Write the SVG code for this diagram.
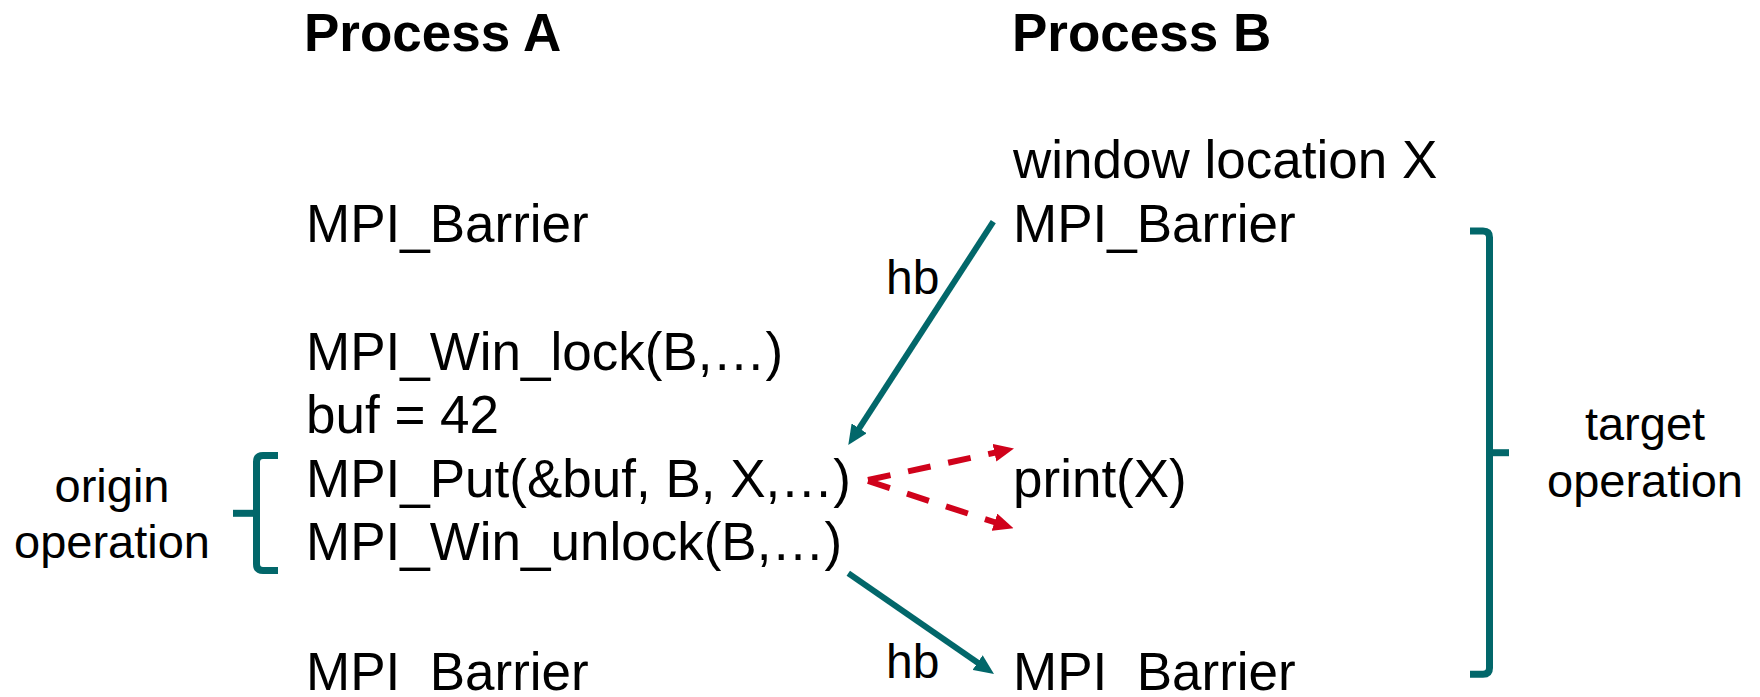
<svg xmlns="http://www.w3.org/2000/svg" width="1760" height="697" viewBox="0 0 1760 697">
  <style>
    .t { font-family: "Liberation Sans", Arial, sans-serif; font-size: 53px; fill: #000; }
    .h { font-family: "Liberation Sans", Arial, sans-serif; font-size: 53px; font-weight: bold; fill: #000; }
    .l { font-family: "Liberation Sans", Arial, sans-serif; font-size: 48px; fill: #000; }
    .lc { font-family: "Liberation Sans", Arial, sans-serif; font-size: 47px; fill: #000; text-anchor: middle; }
    .brace { fill: none; stroke: #02676A; stroke-width: 7; stroke-linecap: butt; stroke-linejoin: round; }
    .hb { fill: none; stroke: #02676A; stroke-width: 6; stroke-linecap: butt; marker-end: url(#tealHead); }
    .race { fill: none; stroke: #D0021B; stroke-width: 6; stroke-dasharray: 23 18; stroke-linecap: butt; marker-end: url(#redHead); }
  </style>
  <defs>
    <marker id="tealHead" viewBox="0 0 20 18" refX="6" refY="9" markerWidth="20" markerHeight="18" markerUnits="userSpaceOnUse" orient="auto">
      <path d="M0,0 L20,9 L0,18 Z" fill="#02676A"/>
    </marker>
    <marker id="redHead" viewBox="0 0 20 18" refX="6" refY="9" markerWidth="20" markerHeight="18" markerUnits="userSpaceOnUse" orient="auto">
      <path d="M0,0 L20,9 L0,18 Z" fill="#D0021B"/>
    </marker>
    <clipPath id="edge"><rect x="0" y="0" width="1760" height="693"/></clipPath>
  </defs>

  <g id="header-a"><text class="h" x="304" y="51">Process A</text></g>
  <g id="header-b"><text class="h" x="1012" y="51">Process B</text></g>

  <g id="a-barrier1"><text class="t" x="306" y="241.7">MPI_Barrier</text></g>
  <g id="a-winlock"><text class="t" x="306" y="370">MPI_Win_lock(B,…)</text></g>
  <g id="a-buf"><text class="t" x="306" y="433.3">buf = 42</text></g>
  <g id="a-put"><text class="t" x="306" y="496.7">MPI_Put(&amp;buf, B, X,…)</text></g>
  <g id="a-winunlock"><text class="t" x="306" y="560">MPI_Win_unlock(B,…)</text></g>
  <g id="a-barrier2" clip-path="url(#edge)"><text class="t" x="306" y="690">MPI_Barrier</text></g>

  <g id="b-window"><text class="t" x="1013" y="178.3">window location X</text></g>
  <g id="b-barrier1"><text class="t" x="1013" y="241.7">MPI_Barrier</text></g>
  <g id="b-print"><text class="t" x="1013" y="497">print(X)</text></g>
  <g id="b-barrier2" clip-path="url(#edge)"><text class="t" x="1013" y="690">MPI_Barrier</text></g>

  <g id="origin-label">
    <text class="lc" x="112" y="502">origin</text>
    <text class="lc" x="112" y="558.3">operation</text>
  </g>
  <g id="origin-brace">
    <path class="brace" d="M278,455.5 L263,455.5 Q256.5,455.5 256.5,462 L256.5,564 Q256.5,570.5 263,570.5 L278,570.5"/>
    <path class="brace" d="M233,513.3 L256.5,513.3"/>
  </g>

  <g id="target-label">
    <text class="lc" x="1645" y="440">target</text>
    <text class="lc" x="1645" y="496.7">operation</text>
  </g>
  <g id="target-brace">
    <path class="brace" d="M1470,231 L1483,231 Q1489.5,231 1489.5,237.5 L1489.5,668 Q1489.5,674.3 1483,674.3 L1470,674.3"/>
    <path class="brace" d="M1489.5,452.7 L1509,452.7"/>
  </g>

  <g id="connectors">
    <path class="hb" d="M993.3,221.7 L855.9,433.3"/>
    <path class="hb" d="M848.3,573.3 L982.5,666"/>
    <path class="race" d="M868,480 L1000.3,451.5"/>
    <path class="race" d="M868,481 L1000.2,524"/>
    <text class="l" x="886" y="294.3">hb</text>
    <text class="l" x="886" y="678.3">hb</text>
  </g>
</svg>
